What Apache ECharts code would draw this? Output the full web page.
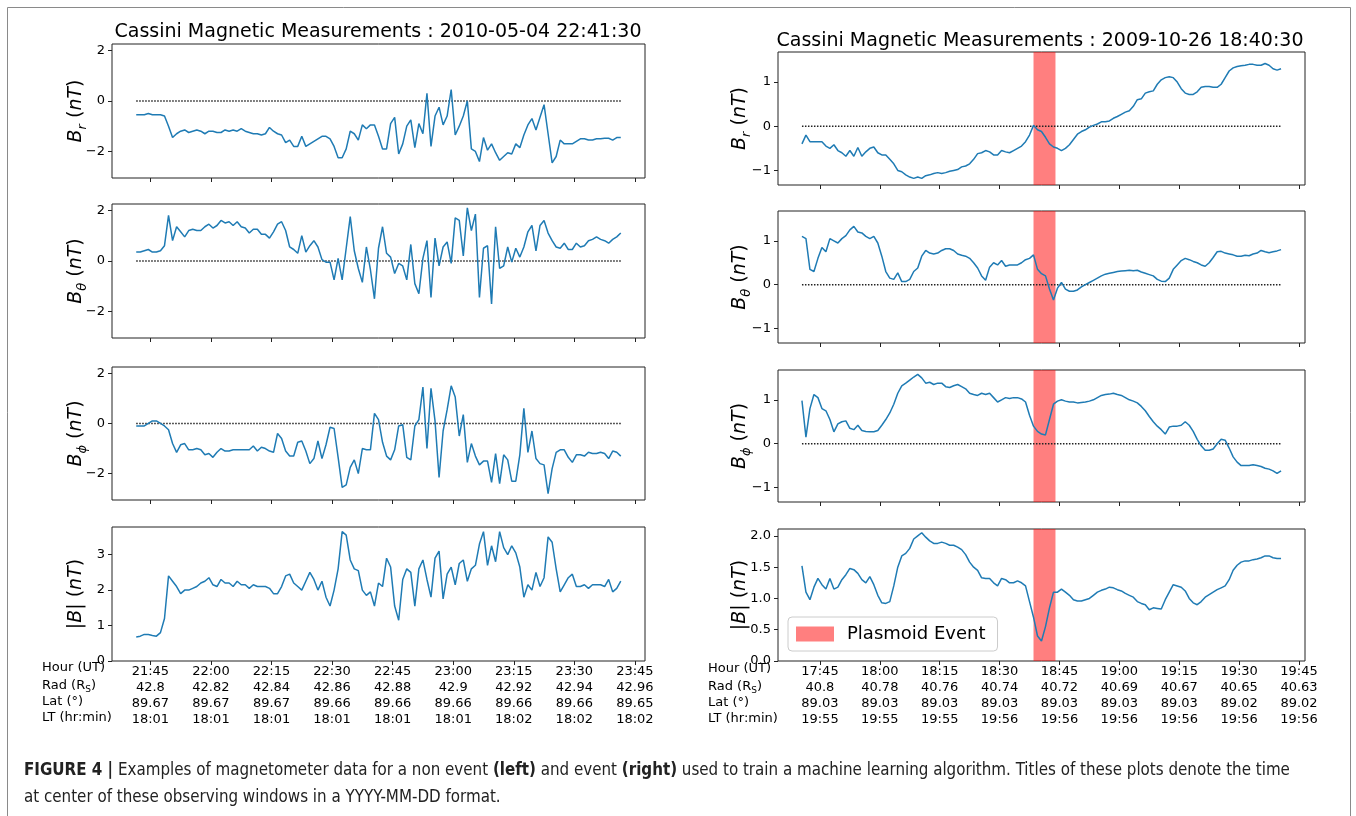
<!DOCTYPE html>
<html>
<head>
<meta charset="utf-8" />
<title>Cassini magnetometer windows</title>
<script type="text/javascript" src="https://cdn.jsdelivr.net/npm/echarts@6/dist/echarts.min.js"></script>
<style>
html, body { margin: 0; padding: 0; background: #fff; }
#chart { width: 1356px; height: 816px; }
</style>
</head>
<body>
<div id="chart"></div>
<script type="text/javascript">

// first sample of each 2-hour window, minutes after midnight (one sample per minute)
var leftStart = 21 * 60 + 41.5;
var rightStart = 17 * 60 + 40.5;
// plasmoid event band (right window)
var eventFrom = 18 * 60 + 38.5;
var eventTo = 18 * 60 + 44;

// non event, 2010-05-04
var leftBr = [-0.55,-0.55,-0.55,-0.5,-0.55,-0.55,-0.55,-0.6,-1.0,-1.45,-1.3,-1.2,-1.15,-1.25,-1.2,-1.15,-1.2,-1.3,
  -1.2,-1.2,-1.25,-1.25,-1.15,-1.2,-1.15,-1.2,-1.1,-1.2,
  -1.25,-1.3,-1.3,-1.35,-1.3,-1.05,-1.2,-1.3,-1.35,-1.65,-1.55,-1.8,-1.8,-1.4,-1.8,-1.7,-1.6,-1.5,-1.4,-1.4,
  -1.5,-1.8,-2.25,-2.25,-1.9,-1.2,-1.3,-1.55,-0.95,-1.1,-0.95,-0.95,-1.4,-1.9,-1.9,-0.9,-0.65,-2.1,-1.7,-1.0,
  -0.75,-1.85,-0.9,-1.3,0.3,-1.8,-0.6,-0.25,-0.95,-0.6,0.45,-1.35,-1.0,-0.6,0.0,-1.9,-2.0,-2.4,-1.45,-1.95,
  -1.7,-2.05,-2.35,-2.2,-2.05,-2.1,-1.7,-1.85,-1.35,-0.95,-0.7,-1.15,-0.65,-0.15,-1.3,-2.45,-2.2,-1.55,-1.7,-1.7,
  -1.7,-1.6,-1.5,-1.5,-1.55,-1.55,-1.5,-1.5,-1.48,-1.48,-1.55,-1.45,-1.45];
var leftBtheta = [0.35,0.35,0.4,0.45,0.35,0.35,0.4,0.6,1.8,0.8,1.35,1.15,0.95,1.2,1.25,1.2,1.2,1.35,1.45,1.3,
  1.4,1.6,1.5,1.55,1.4,1.55,1.35,1.3,1.1,1.25,1.25,1.05,1.05,0.9,1.15,1.45,1.55,1.2,0.55,0.45,
  0.3,1.0,0.35,0.6,0.8,0.55,0.05,-0.05,-0.05,-0.75,0.1,-0.75,0.5,1.75,0.4,-0.3,-0.85,0.55,-0.35,-1.5,
  0.5,1.35,0.3,0.15,-0.5,-0.1,-0.2,-0.75,0.65,-0.9,-1.3,0.1,0.8,-1.45,0.9,-0.2,0.55,0.75,-0.1,1.7,
  1.6,0.2,2.1,1.2,1.85,-1.45,0.5,0.6,-1.7,1.35,-0.3,-0.2,0.55,-0.05,0.5,0.15,0.55,1.15,1.4,0.4,
  1.4,1.6,1.1,0.8,0.55,0.5,0.7,0.45,0.45,0.7,0.55,0.6,0.8,0.85,0.95,0.85,0.8,0.7,0.85,0.95,1.1];
var leftBphi = [-0.1,-0.1,-0.1,0.0,0.1,0.1,0.0,-0.1,-0.25,-0.8,-1.15,-0.85,-0.8,-1.05,-1.05,-1.0,-1.05,-1.25,-1.2,-1.35,
  -1.15,-1.0,-1.1,-1.1,-1.05,-1.05,-1.05,-1.05,-1.05,-0.9,-1.1,-0.95,-1.0,-1.1,-1.15,-0.4,-0.6,-1.1,-1.3,-1.3,
  -0.75,-0.7,-1.1,-1.6,-1.4,-0.7,-1.4,-0.85,-0.15,-0.2,-1.35,-2.55,-2.45,-1.75,-1.45,-2.0,-1.0,-1.05,-1.05,0.4,
  0.15,-0.75,-1.3,-1.45,-1.05,-0.1,-0.05,-1.35,-1.45,-0.1,0.15,1.45,-1.0,1.4,0.1,-2.15,-0.3,0.55,1.5,1.05,
  -0.5,0.35,-1.55,-0.8,-1.3,-1.65,-1.5,-1.5,-2.35,-1.2,-2.4,-1.25,-1.45,-2.3,-2.3,-1.25,0.6,-1.15,-0.3,-1.4,
  -1.6,-1.65,-2.8,-1.8,-1.15,-1.05,-1.05,-1.35,-1.55,-1.25,-1.25,-1.3,-1.15,-1.2,-1.2,-1.15,-1.2,-1.4,-1.1,-1.15,-1.3];
var leftBmag = [0.68,0.7,0.75,0.75,0.72,0.7,0.8,1.2,2.4,2.25,2.1,1.9,2.0,2.0,2.05,2.1,2.2,2.25,2.35,2.15,
  2.1,2.3,2.2,2.2,2.1,2.25,2.15,2.15,2.05,2.15,2.1,2.1,2.1,2.05,1.9,1.9,2.1,2.4,2.45,2.2,
  2.1,2.0,2.25,2.5,2.3,2.0,2.25,1.8,1.55,2.0,2.6,3.65,3.55,2.85,2.6,2.55,2.0,1.85,1.95,1.55,
  2.2,2.1,2.9,2.65,1.55,1.15,2.3,2.6,2.5,1.55,2.6,2.85,2.3,1.8,2.9,3.1,1.75,2.45,2.65,2.15,
  2.75,2.85,2.25,2.6,2.7,3.3,3.65,2.7,3.25,2.8,3.65,3.2,3.0,3.25,3.05,2.65,1.8,2.15,2.0,2.5,
  2.1,2.35,3.5,3.35,2.6,1.95,2.15,2.35,2.45,2.1,2.1,2.15,2.05,2.15,2.15,2.15,2.1,2.3,1.95,2.05,2.25];

// plasmoid event, 2009-10-26
var rightBr = [-0.4,-0.2,-0.35,-0.35,-0.35,-0.35,-0.45,-0.5,-0.42,-0.55,-0.6,-0.68,-0.55,-0.68,-0.48,-0.68,-0.58,-0.5,-0.47,-0.6,
  -0.65,-0.65,-0.75,-0.85,-1.0,-1.03,-1.1,-1.15,-1.18,-1.15,-1.18,-1.12,-1.1,-1.07,-1.05,-1.07,-1.05,-1.02,-1.0,-0.98,
  -0.92,-0.9,-0.85,-0.75,-0.62,-0.6,-0.55,-0.58,-0.65,-0.65,-0.55,-0.58,-0.6,-0.55,-0.5,-0.45,-0.35,-0.2,0.02,-0.08,
  -0.12,-0.25,-0.4,-0.47,-0.5,-0.55,-0.5,-0.42,-0.3,-0.18,-0.12,-0.08,-0.02,0.02,0.05,0.1,0.1,0.12,0.18,0.22,
  0.27,0.32,0.35,0.45,0.6,0.62,0.75,0.78,0.8,0.95,1.05,1.1,1.12,1.1,1.0,0.85,0.75,0.72,0.72,0.78,
  0.88,0.9,0.9,0.88,0.88,0.95,1.1,1.25,1.32,1.35,1.37,1.38,1.4,1.4,1.38,1.38,1.42,1.38,1.3,1.27,1.3];
var rightBtheta = [1.1,1.05,0.35,0.3,0.6,0.85,0.75,1.05,1.0,0.95,1.05,1.12,1.25,1.33,1.2,1.18,1.1,1.05,1.1,0.95,
  0.65,0.3,0.15,0.12,0.27,0.07,0.07,0.12,0.3,0.38,0.65,0.78,0.72,0.7,0.72,0.78,0.82,0.82,0.78,0.7,
  0.67,0.65,0.6,0.5,0.38,0.2,0.1,0.4,0.5,0.45,0.55,0.42,0.45,0.45,0.45,0.5,0.57,0.6,0.68,0.35,
  0.25,0.2,-0.1,-0.35,-0.08,0.05,-0.1,-0.15,-0.15,-0.12,-0.05,0.0,0.05,0.1,0.15,0.2,0.24,0.26,0.28,0.3,
  0.31,0.32,0.33,0.32,0.33,0.29,0.26,0.23,0.2,0.12,0.08,0.07,0.15,0.35,0.45,0.55,0.6,0.57,0.53,0.5,
  0.45,0.42,0.5,0.62,0.75,0.76,0.72,0.7,0.68,0.65,0.65,0.67,0.66,0.7,0.72,0.78,0.75,0.73,0.75,0.77,0.8];
var rightBphi = [0.98,0.15,0.8,1.12,1.05,0.8,0.75,0.55,0.27,0.45,0.5,0.52,0.35,0.32,0.42,0.3,0.28,0.27,0.27,0.3,
  0.42,0.55,0.7,0.9,1.15,1.32,1.38,1.45,1.52,1.58,1.5,1.38,1.4,1.35,1.38,1.38,1.3,1.28,1.32,1.35,
  1.3,1.25,1.15,1.12,1.1,1.15,1.12,1.15,1.05,0.95,1.0,1.05,1.03,1.05,1.05,1.02,0.95,0.65,0.4,0.28,
  0.22,0.2,0.55,0.9,0.97,1.0,0.97,0.95,0.95,0.93,0.94,0.95,0.97,1.0,1.05,1.1,1.12,1.13,1.15,1.12,
  1.1,1.05,1.0,0.97,0.93,0.85,0.75,0.62,0.5,0.4,0.32,0.22,0.38,0.4,0.4,0.42,0.5,0.42,0.28,0.1,
  -0.05,-0.15,-0.15,-0.12,0.0,0.1,0.08,-0.1,-0.3,-0.42,-0.5,-0.5,-0.5,-0.48,-0.5,-0.52,-0.56,-0.58,-0.62,-0.68,-0.62];
var rightBmag = [1.52,1.1,0.98,1.18,1.32,1.22,1.15,1.32,1.15,1.18,1.3,1.38,1.48,1.46,1.4,1.3,1.25,1.35,1.22,1.05,
  0.93,0.92,0.95,1.2,1.5,1.68,1.72,1.8,1.95,2.0,2.05,1.98,1.92,1.88,1.88,1.9,1.88,1.85,1.85,1.82,
  1.78,1.7,1.58,1.5,1.45,1.33,1.32,1.32,1.25,1.2,1.32,1.3,1.25,1.25,1.28,1.25,1.2,0.95,0.7,0.4,
  0.32,0.55,0.85,1.1,1.1,1.15,1.1,1.05,0.98,0.96,0.96,0.98,1.0,1.05,1.1,1.13,1.15,1.18,1.17,1.14,
  1.12,1.08,1.05,1.02,0.95,0.92,0.9,0.82,0.85,0.84,0.83,0.98,1.1,1.22,1.2,1.18,1.12,1.0,0.93,0.9,
  0.95,1.02,1.06,1.1,1.14,1.17,1.2,1.3,1.45,1.53,1.58,1.6,1.6,1.62,1.63,1.65,1.68,1.68,1.65,1.64,1.64];

// tick rows under the bottom panels
var leftHour = ['21:45','22:00','22:15','22:30','22:45','23:00','23:15','23:30','23:45'];
var leftRad = ['42.8','42.82','42.84','42.86','42.88','42.9','42.92','42.94','42.96'];
var leftLat = ['89.67','89.67','89.67','89.66','89.66','89.66','89.66','89.66','89.65'];
var leftLT = ['18:01','18:01','18:01','18:01','18:01','18:01','18:02','18:02','18:02'];
var rightHour = ['17:45','18:00','18:15','18:30','18:45','19:00','19:15','19:30','19:45'];
var rightRad = ['40.8','40.78','40.76','40.74','40.72','40.69','40.67','40.65','40.63'];
var rightLat = ['89.03','89.03','89.03','89.03','89.03','89.03','89.03','89.02','89.02'];
var rightLT = ['19:55','19:55','19:55','19:56','19:56','19:56','19:56','19:56','19:56'];

var yTicksLeft = [-2, 0, 2];
var yTicksRight = [-1, 0, 1];
var yTicksLeftMag = [0, 1, 2, 3];
var yTicksRightMag = [0, 0.5, 1, 1.5, 2];

var FONT = 'DejaVu Sans';
var LINE = '#1f7bb4';

function toMin(s) { var p = s.split(':'); return +p[0] * 60 + +p[1]; }

var sides = {
  L: { start: leftStart, hour: leftHour, rad: leftRad, lat: leftLat, lt: leftLT },
  R: { start: rightStart, hour: rightHour, rad: rightRad, lat: rightLat, lt: rightLT }
};
sides.L.ticks = leftHour.map(toMin);
sides.R.ticks = rightHour.map(toMin);

var panels = [
  { side: 'L', box: [112, 44, 533, 134], data: leftBr, min: -3.05, max: 2.25, ticks: yTicksLeft, sub: 'r', dec: 0 },
  { side: 'L', box: [112, 204, 533, 134], data: leftBtheta, min: -3.05, max: 2.25, ticks: yTicksLeft, sub: 'θ', dec: 0 },
  { side: 'L', box: [112, 367, 533, 133], data: leftBphi, min: -3.05, max: 2.25, ticks: yTicksLeft, sub: 'ϕ', dec: 0 },
  { side: 'L', box: [112, 527, 533, 134], data: leftBmag, min: 0, max: 3.78, ticks: yTicksLeftMag, sub: null, dec: 0, last: true },
  { side: 'R', box: [778, 52, 527, 133], data: rightBr, min: -1.33, max: 1.68, ticks: yTicksRight, sub: 'r', dec: 0 },
  { side: 'R', box: [778, 211, 527, 132], data: rightBtheta, min: -1.33, max: 1.68, ticks: yTicksRight, sub: 'θ', dec: 0 },
  { side: 'R', box: [778, 370, 527, 132], data: rightBphi, min: -1.33, max: 1.68, ticks: yTicksRight, sub: 'ϕ', dec: 0 },
  { side: 'R', box: [778, 529, 527, 132], data: rightBmag, min: 0, max: 2.11, ticks: yTicksRightMag, sub: null, dec: 1, last: true }
];

var grids = [], xAxes = [], yAxes = [], series = [], graphics = [];

var labelRich = {
  b: { fontFamily: FONT, fontStyle: 'italic', fontSize: 19, lineHeight: 26 },
  s: { fontFamily: FONT, fontStyle: 'italic', fontSize: 13, lineHeight: 16, verticalAlign: 'bottom' },
  n: { fontFamily: FONT, fontSize: 19, lineHeight: 26 }
};

panels.forEach(function (p, k) {
  var sd = sides[p.side];
  grids.push({
    left: p.box[0], top: p.box[1], width: p.box[2], height: p.box[3],
    show: true, borderColor: '#222', borderWidth: 1, containLabel: false, outerBoundsMode: 'none'
  });
  xAxes.push({
    type: 'value', gridIndex: k, min: sd.start - 6, max: sd.start + 126,
    splitLine: { show: false }, axisLine: { show: false, onZero: false },
    axisTick: { show: true, length: 4, customValues: sd.ticks, lineStyle: { color: '#222' } },
    axisLabel: {
      show: !!p.last, customValues: sd.ticks, margin: 3, fontFamily: FONT, fontSize: 13,
      lineHeight: 16, color: '#000',
      formatter: function (v) {
        var i = sd.ticks.indexOf(Math.round(v));
        if (i < 0) return '';
        return sd.hour[i] + '\n' + sd.rad[i] + '\n' + sd.lat[i] + '\n' + sd.lt[i];
      }
    }
  });
  yAxes.push({
    type: 'value', gridIndex: k, min: p.min, max: p.max,
    splitLine: { show: false }, axisLine: { show: false, onZero: false },
    axisTick: { show: true, length: 4, customValues: p.ticks, lineStyle: { color: '#222' } },
    axisLabel: {
      customValues: p.ticks, margin: 7, fontFamily: FONT, fontSize: 13, color: '#000',
      formatter: function (v) {
        var s = Math.abs(v).toFixed(p.dec);
        return v < 0 ? '\u2212' + s : s;
      }
    }
  });

  var pts = p.data.map(function (v, i) { return [sd.start + i, v]; });
  if (p.sub) {
    series.push({
      type: 'line', xAxisIndex: k, yAxisIndex: k, silent: true, symbol: 'none', z: 2,
      data: [[sd.start, 0], [sd.start + 120, 0]],
      lineStyle: { color: '#222', width: 1.5, type: 'dotted' }
    });
  }
  series.push({
    type: 'line', name: 'B' + k, xAxisIndex: k, yAxisIndex: k, silent: true, symbol: 'none', z: 3,
    data: pts, lineStyle: { color: LINE, width: 1.5 }, itemStyle: { color: LINE }
  });
  if (p.side === 'R') {
    series.push({
      type: 'line', name: 'Plasmoid Event', xAxisIndex: k, yAxisIndex: k, silent: true, symbol: 'none', z: 4,
      data: [], itemStyle: { color: 'rgba(255,0,0,0.5)' },
      markArea: {
        silent: true, itemStyle: { color: 'rgba(255,0,0,0.5)' },
        data: [[{ xAxis: eventFrom }, { xAxis: eventTo }]]
      }
    });
  }

  // y axis label
  var txt = p.sub ? '{b|B}{s|' + p.sub + '}{n| (}{b|nT}{n|)}' : '{n||}{b|B}{n|| (}{b|nT}{n|)}';
  graphics.push({
    type: 'text', x: p.side === 'L' ? 76 : 740, y: p.box[1] + p.box[3] / 2, rotation: Math.PI / 2,
    style: { text: txt, rich: labelRich, align: 'center', verticalAlign: 'middle', fill: '#000' }
  });
});

// titles
graphics.push({
  type: 'text', x: 378, y: 32,
  style: { text: 'Cassini Magnetic Measurements : 2010-05-04 22:41:30', fontFamily: FONT, fontSize: 19,
    fill: '#000', align: 'center', verticalAlign: 'middle' }
});
graphics.push({
  type: 'text', x: 1040, y: 41,
  style: { text: 'Cassini Magnetic Measurements : 2009-10-26 18:40:30', fontFamily: FONT, fontSize: 19,
    fill: '#000', align: 'center', verticalAlign: 'middle' }
});

// row headers of the tick table
var rowRich = {
  a: { fontFamily: FONT, fontSize: 13, lineHeight: 16 },
  s: { fontFamily: FONT, fontSize: 9, lineHeight: 10, verticalAlign: 'bottom' }
};
[[42, 662], [708, 663]].forEach(function (o) {
  var heads = ['{a|Hour (UT)}', '{a|Rad (R}{s|S}{a|)}', '{a|Lat (°)}', '{a|LT (hr:min)}'];
  heads.forEach(function (h, i) {
    graphics.push({
      type: 'text', x: o[0], y: o[1] + 8 + i * 16 - (i === 0 ? 2 : 0),
      style: { text: h, rich: rowRich, align: 'left', verticalAlign: 'middle', fill: '#000' }
    });
  });
});

// caption: a narrow sans face, sized so the first line spans the page like the original
var CAP_FONT = "'DejaVu Sans Condensed', 'Liberation Sans', sans-serif";
var capParts = [['FIGURE 4 |', true], [' Examples of magnetometer data for a non event ', false], ['(left)', true],
  [' and event ', false], ['(right)', true],
  [' used to train a machine learning algorithm. Titles of these plots denote the time', false]];
var mctx = document.createElement('canvas').getContext('2d');
var w100 = 0;
capParts.forEach(function (c) {
  mctx.font = (c[1] ? 'bold ' : '') + '100px ' + CAP_FONT;
  w100 += mctx.measureText(c[0]).width;
});
var capSize = Math.min(18, 100 * 1267 / w100);
var capRich = {
  r: { fontFamily: CAP_FONT, fontSize: capSize, fill: '#222' },
  b: { fontFamily: CAP_FONT, fontSize: capSize, fontWeight: 'bold', fill: '#222' }
};
graphics.push({
  type: 'text', x: 24, y: 771,
  style: { text: capParts.map(function (c) { return '{' + (c[1] ? 'b' : 'r') + '|' + c[0] + '}'; }).join(''),
    rich: capRich, align: 'left', verticalAlign: 'middle' }
});
graphics.push({
  type: 'text', x: 24, y: 798,
  style: { text: '{r|at center of these observing windows in a YYYY-MM-DD format.}',
    rich: capRich, align: 'left', verticalAlign: 'middle' }
});

// outer frame
graphics.push({
  type: 'rect', shape: { x: 7.5, y: 7.5, width: 1343, height: 830 },
  style: { fill: 'none', stroke: '#8a8a8a', lineWidth: 1 }, z: -1
});

var chart = echarts.init(document.getElementById('chart'));
chart.setOption({
  animation: false,
  backgroundColor: '#fff',
  grid: grids,
  xAxis: xAxes,
  yAxis: yAxes,
  legend: {
    data: ['Plasmoid Event'], left: 788, top: 617, orient: 'vertical',
    icon: 'rect', itemWidth: 38, itemHeight: 15,
    padding: [8, 12, 8, 8], borderColor: '#cccccc', borderWidth: 1, borderRadius: 4,
    backgroundColor: 'rgba(255,255,255,0.8)',
    textStyle: { fontFamily: FONT, fontSize: 18, color: '#000', padding: [0, 0, 0, 8] },
    selectedMode: false
  },
  graphic: graphics,
  series: series
});
</script>
</body>
</html>
